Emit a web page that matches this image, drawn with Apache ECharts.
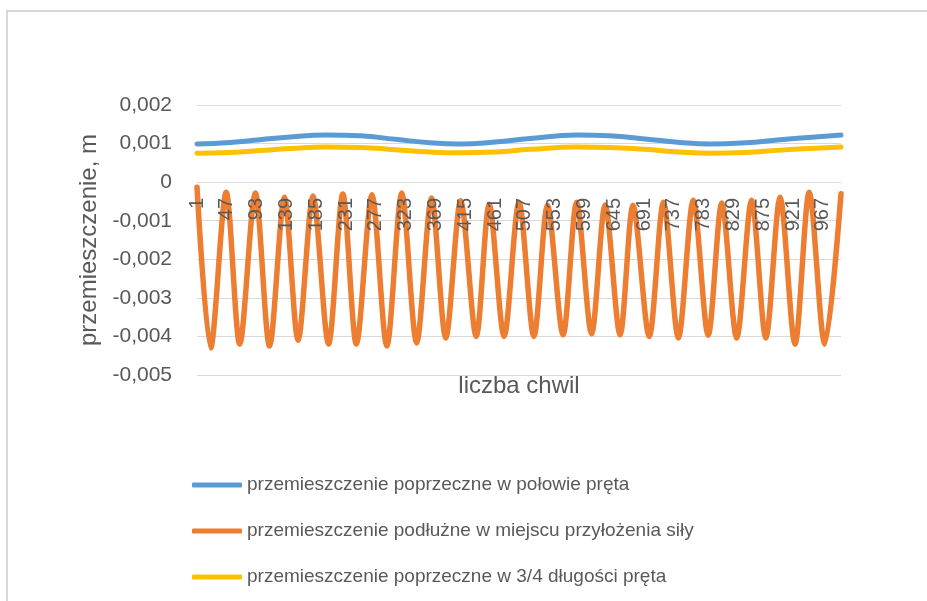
<!DOCTYPE html>
<html>
<head>
<meta charset="utf-8">
<script src="https://cdn.jsdelivr.net/npm/echarts@6/dist/echarts.min.js"></script>
<style>
  html, body { margin: 0; padding: 0; background: #fff; }
  #chart { width: 927px; height: 601px; }
</style>
</head>
<body>
<div id="chart"></div>
<script>
// x axis: sample numbers 1..995, a label every 46 samples
const sampleCount = 995
const categories = Array.from({ length: sampleCount }, (_, i) => String(i + 1))

const seriesNames = [
    'przemieszczenie poprzeczne w połowie pręta',
    'przemieszczenie podłużne w miejscu przyłożenia siły',
    'przemieszczenie poprzeczne w 3/4 długości pręta'
]

// transverse displacement at half length
const halfIdx = [0, 51, 97, 144, 198, 252, 306, 360, 406, 460, 514, 586, 637, 691, 745, 792, 846, 900, 954, 994]
const halfVal = [0.00099, 0.00103, 0.00110, 0.00117, 0.00122, 0.00120, 0.00111, 0.00102, 0.00099, 0.00104,
    0.00113, 0.00122, 0.00120, 0.00112, 0.00103, 0.00099, 0.00102, 0.00110, 0.00117, 0.00122]

// longitudinal displacement at the load point: turning points
const axialIdx = [0, 21, 45, 66, 90, 112, 135, 156, 179, 203, 225, 246, 270, 293, 316, 339, 362, 384, 407, 431,
    451, 474, 497, 520, 541, 565, 586, 609, 630, 653, 673, 698, 720, 743, 766, 789, 810, 833, 856, 878,
    900, 923, 945, 969, 994]
const axialVal = [-0.00013, -0.0043, -0.00026, -0.0042, -0.00028, -0.00425, -0.00039, -0.0041, -0.00036, -0.0042,
    -0.00031, -0.0042, -0.00033, -0.00425, -0.00028, -0.00417, -0.00041, -0.00404, -0.00048, -0.0040,
    -0.00057, -0.0040, -0.00052, -0.0040, -0.0006, -0.00396, -0.00052, -0.00393, -0.00059, -0.00396,
    -0.0006, -0.0040, -0.00052, -0.00404, -0.00047, -0.00397, -0.00054, -0.00404, -0.00047, -0.00404,
    -0.00039, -0.0042, -0.00026, -0.0042, -0.0003]

// transverse displacement at 3/4 length
const quarterIdx = halfIdx
const quarterVal = [0.00075, 0.00077, 0.00082, 0.00087, 0.00091, 0.00090, 0.00084, 0.00078, 0.00076, 0.00078,
    0.00085, 0.00091, 0.00090, 0.00085, 0.00078, 0.00075, 0.00077, 0.00083, 0.00088, 0.00091]

const colors = ['#5b9bd5', '#ed7d31', '#ffc000']
const textColor = '#595959'
const font = '"Liberation Sans", Arial, sans-serif'

function pairs(idx, val) {
    return idx.map((x, i) => [x, val[i]])
}

const chart = echarts.init(document.getElementById('chart'))

const option = {
    animation: false,
    color: colors,
    textStyle: { fontFamily: font, color: textColor },
    graphic: [{
        type: 'rect',
        shape: { x: 7, y: 11, width: 960, height: 640 },
        style: { fill: 'none', stroke: '#d9d9d9', lineWidth: 2 }
    }],
    grid: { left: 197, right: 86, top: 105, bottom: 226, containLabel: false },
    legend: {
        orient: 'vertical',
        left: 187,
        top: 469,
        icon: 'roundRect',
        itemWidth: 50,
        itemHeight: 5,
        itemGap: 24,
        textStyle: { fontFamily: font, fontSize: 19, color: textColor, lineHeight: 22 },
        data: seriesNames
    },
    xAxis: {
        type: 'category',
        data: categories,
        boundaryGap: false,
        // the axis sits on the zero line (bottom of grid is at -0.005)
        offset: -193,
        z: 5,
        name: 'liczba chwil',
        nameLocation: 'middle',
        nameGap: 192,
        nameTextStyle: { fontFamily: font, fontSize: 24, color: textColor },
        axisLine: { onZero: false, lineStyle: { color: '#d9d9d9', width: 1 } },
        axisTick: { show: false },
        axisLabel: {
            interval: 45,
            rotate: 90,
            margin: 16,
            fontFamily: font,
            fontSize: 20,
            color: textColor
        },
        splitLine: { show: false }
    },
    yAxis: {
        type: 'value',
        min: -0.005,
        max: 0.002,
        interval: 0.001,
        name: 'przemieszczenie, m',
        nameLocation: 'middle',
        nameGap: 89,
        nameTextStyle: { fontFamily: font, fontSize: 24, color: textColor },
        axisLine: { show: false },
        axisTick: { show: false },
        axisLabel: {
            margin: 25,
            fontFamily: font,
            fontSize: 21,
            color: textColor,
            formatter: (v) => {
                const r = Math.round(v * 1000) / 1000
                return r === 0 ? '0' : r.toFixed(3).replace('.', ',')
            }
        },
        splitLine: { lineStyle: { color: '#d9d9d9', width: 1 } }
    },
    series: [
        {
            name: seriesNames[0],
            type: 'line',
            data: pairs(halfIdx, halfVal),
            smooth: true,
            symbol: 'none',
            lineStyle: { width: 5, color: colors[0], cap: 'round' }
        },
        {
            name: seriesNames[1],
            type: 'line',
            data: pairs(axialIdx, axialVal),
            smooth: 0.3,
            symbol: 'none',
            lineStyle: { width: 5.5, color: colors[1], cap: 'round', join: 'round' }
        },
        {
            name: seriesNames[2],
            type: 'line',
            data: pairs(quarterIdx, quarterVal),
            smooth: true,
            symbol: 'none',
            lineStyle: { width: 5, color: colors[2], cap: 'round' }
        }
    ]
}

chart.setOption(option)
</script>
</body>
</html>
